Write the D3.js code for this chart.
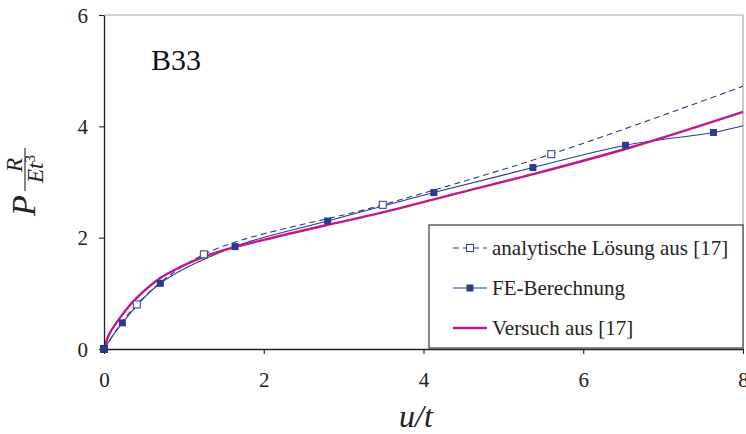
<!DOCTYPE html>
<html><head><meta charset="utf-8">
<script src="https://cdn.jsdelivr.net/npm/d3@7"></script>
<style>
html,body{margin:0;padding:0;background:#fff;}
</style></head>
<body>
<svg id="c" width="746" height="434"></svg>
<script>
// ---- data ----
const xTicks = [0, 2, 4, 6, 8];
const yTicks = [0, 2, 4, 6];
// analytic solution (dashed line) and its markers
const analyticX = [0, 0.41, 1.25, 3.49, 5.6, 8.0];
const analyticY = [0, 0.80, 1.70, 2.59, 3.50, 4.72];
const analyticMarkerCount = 5;
// FE computation (thin line) and its markers
const feX = [0, 0.23, 0.705, 1.64, 2.80, 4.13, 5.37, 6.53, 7.63, 8.0];
const feY = [0, 0.47, 1.18, 1.84, 2.30, 2.81, 3.26, 3.66, 3.89, 4.01];
const feMarkerCount = 9;
// experiment (magenta)
const expX = [0, 0.07, 0.2, 0.37, 0.7, 0.95, 1.2, 1.49, 2.0, 2.8, 3.45, 4.46, 5.37, 6.59, 8.0];
const expY = [0, 0.28, 0.56, 0.86, 1.27, 1.47, 1.63, 1.77, 1.96, 2.23, 2.44, 2.81, 3.14, 3.62, 4.26];
const legendLabels = ["analytische Lösung aus [17]", "FE-Berechnung", "Versuch aus [17]"];
const chartLabel = "B33";

const blue = "#2b3990", magenta = "#c2188a";
const svg = d3.select("#c");
const x = d3.scaleLinear().domain([0, 8]).range([104, 743]);
const y = d3.scaleLinear().domain([0, 6]).range([349, 15]);

// frame (top/right)
svg.append("line").attr("x1", x(0)).attr("x2", x(8)).attr("y1", y(6)).attr("y2", y(6)).attr("stroke", "#a8a8a8").attr("stroke-width", 1.2);
svg.append("line").attr("x1", x(8)).attr("x2", x(8)).attr("y1", y(6)).attr("y2", y(0)).attr("stroke", "#a8a8a8").attr("stroke-width", 1.2);

svg.append("clipPath").attr("id", "cp").append("rect")
  .attr("x", x(0) - 6).attr("y", y(6)).attr("width", x(8) - x(0) + 8).attr("height", y(0) - y(6) + 6);

const g = svg.append("g").attr("clip-path", "url(#cp)");
const zip = (xs, ys) => xs.map((v, i) => [v, ys[i]]);
const lineCR = d3.line().x(d => x(d[0])).y(d => y(d[1])).curve(d3.curveCatmullRom.alpha(0.5));

const aData = zip(analyticX, analyticY), fData = zip(feX, feY), eData = zip(expX, expY);

g.append("path").attr("d", lineCR(aData)).attr("fill", "none").attr("stroke", blue).attr("stroke-width", 1.1).attr("stroke-dasharray", "6,4");
g.append("path").attr("d", lineCR(fData)).attr("fill", "none").attr("stroke", blue).attr("stroke-width", 1.1);
g.append("path").attr("d", lineCR(eData)).attr("fill", "none").attr("stroke", magenta).attr("stroke-width", 2.4);

// markers
const ms = 7;
g.selectAll(".am").data(aData.slice(0, analyticMarkerCount)).join("rect")
  .attr("x", d => x(d[0]) - ms / 2).attr("y", d => y(d[1]) - ms / 2).attr("width", ms).attr("height", ms)
  .attr("fill", "#fff").attr("stroke", blue).attr("stroke-width", 1);
g.selectAll(".fm").data(fData.slice(0, feMarkerCount)).join("rect")
  .attr("x", d => x(d[0]) - ms / 2).attr("y", d => y(d[1]) - ms / 2).attr("width", ms).attr("height", ms)
  .attr("fill", blue);

// axes
const xa = svg.append("g").attr("transform", `translate(0,${y(0)})`)
  .call(d3.axisBottom(x).tickValues(xTicks).tickSize(5).tickSizeOuter(0).tickFormat(d3.format("d")));
const ya = svg.append("g").attr("transform", `translate(${x(0)},0)`)
  .call(d3.axisLeft(y).tickValues(yTicks).tickSize(5).tickSizeOuter(0).tickFormat(d3.format("d")));
[xa, ya].forEach(a => {
  a.select(".domain").attr("stroke", "#222").attr("stroke-width", 1.3);
  a.selectAll(".tick line").attr("stroke", "#222").attr("stroke-width", 1.1);
  a.selectAll(".tick text").attr("font-size", 21).attr("fill", "#222");
});
xa.selectAll(".tick text").attr("dy", null).attr("y", 38);
ya.selectAll(".tick text").attr("x", -16).attr("dy", "0.34em");
svg.append("rect").attr("x", x(0) - ms / 2).attr("y", y(0) - ms / 2).attr("width", ms).attr("height", ms).attr("fill", blue);

// chart label
svg.append("text").attr("x", 151).attr("y", 70).attr("font-size", 30).attr("fill", "#111").text(chartLabel);

// x label
svg.append("text").attr("x", 416).attr("y", 427).attr("text-anchor", "middle")
  .attr("font-size", 32).attr("font-style", "italic").attr("fill", "#222").text("u/t");

// y label (rotated)
const yl = svg.append("g").attr("transform", "translate(35,216) rotate(-90)").attr("font-style", "italic").attr("fill", "#222");
yl.append("text").attr("x", 0).attr("y", 0).attr("font-size", 34).text("P");
yl.append("text").attr("x", 51).attr("y", -13).attr("font-size", 23).attr("text-anchor", "middle").text("R");
yl.append("line").attr("x1", 25).attr("x2", 68).attr("y1", -10).attr("y2", -10).attr("stroke", "#222").attr("stroke-width", 1.1);
const et = yl.append("text").attr("x", 47).attr("y", 8).attr("font-size", 23).attr("text-anchor", "middle");
et.append("tspan").text("Et");
et.append("tspan").attr("font-size", 15).attr("dy", -8).attr("font-style", "normal").text("3");

// legend
const lg = svg.append("g");
lg.append("rect").attr("x", 429).attr("y", 225).attr("width", 314).attr("height", 123)
  .attr("fill", "#fff").attr("stroke", "#555").attr("stroke-width", 1.4);
const rows = [248, 288, 328];
legendLabels.forEach((t, i) => {
  const yy = rows[i];
  const ln = lg.append("line").attr("x1", 453).attr("x2", 487).attr("y1", yy).attr("y2", yy);
  if (i === 0) {
    ln.attr("stroke", blue).attr("stroke-width", 1.1).attr("stroke-dasharray", "6,4");
    lg.append("rect").attr("x", 470 - 3.5).attr("y", yy - 3.5).attr("width", 7).attr("height", 7).attr("fill", "#fff").attr("stroke", blue);
  } else if (i === 1) {
    ln.attr("stroke", blue).attr("stroke-width", 1.1);
    lg.append("rect").attr("x", 470 - 3.5).attr("y", yy - 3.5).attr("width", 7).attr("height", 7).attr("fill", blue);
  } else {
    ln.attr("stroke", magenta).attr("stroke-width", 2.4);
  }
  lg.append("text").attr("x", 492).attr("y", yy + 7).attr("font-size", 21).attr("fill", "#222").text(t);
});

// serif font on every text
svg.selectAll("text").style("font-family", "Liberation Serif");
</script>
</body></html>
